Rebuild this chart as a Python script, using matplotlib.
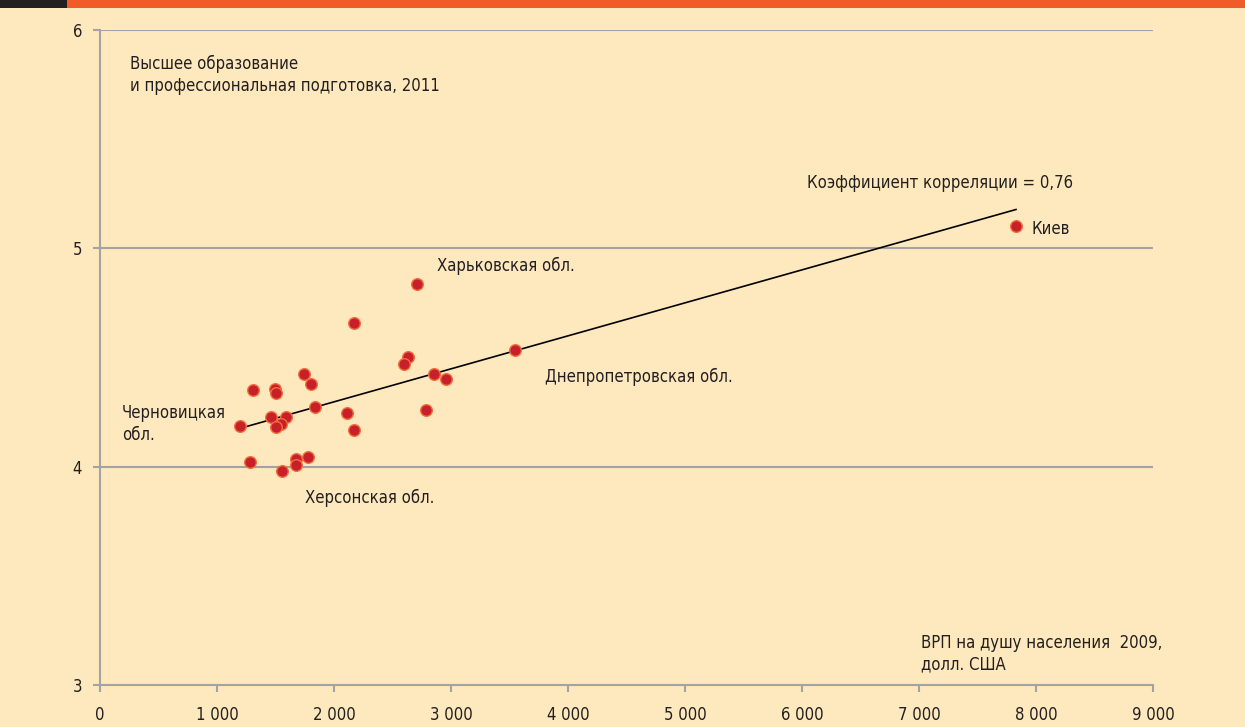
import numpy as np
import matplotlib
matplotlib.use("Agg")
import matplotlib.pyplot as plt
from matplotlib.patches import Rectangle
from matplotlib import font_manager

# ищем узкий шрифт, если он есть
narrow = None
for f in font_manager.fontManager.ttflist:
    if f.name == 'Liberation Sans Narrow':
        narrow = f.name
        break
stretch = 'normal'
if narrow is None:
    for f in font_manager.fontManager.ttflist:
        if f.name == 'DejaVu Sans' and f.stretch == 'condensed':
            narrow = 'DejaVu Sans'
            stretch = 'condensed'
            break
if narrow is None:
    narrow = 'Liberation Sans'
plt.rcParams['font.family'] = [narrow, 'DejaVu Sans']
plt.rcParams['font.stretch'] = stretch

# ВРП на душу населения 2009 (долл. США) и индекс образования 2011
vrp = [2709, 2171, 3547, 2632, 2598, 2855, 2957, 1744, 1803, 1308,
       1496, 1504, 1838, 2111, 2786, 1462, 1590, 1547, 1504, 1197,
       2171, 1282, 1675, 1675, 1778, 1556, 7829]
obr = [4.836, 4.658, 4.534, 4.502, 4.470, 4.424, 4.401, 4.424, 4.378, 4.351,
       4.355, 4.337, 4.273, 4.246, 4.259, 4.227, 4.227, 4.195, 4.181, 4.186,
       4.168, 4.021, 4.035, 4.007, 4.044, 3.980, 5.102]

x_ticks = [0, 1000, 2000, 3000, 4000, 5000, 6000, 7000, 8000, 9000]
x_labels = ['0', '1 000', '2 000', '3 000', '4 000', '5 000', '6 000', '7 000', '8 000', '9 000']
y_ticks = [3, 4, 5, 6]

bg = '#fee8bd'
txt = '#231f20'
grey = '#a3a3a3'

fig = plt.figure(figsize=(12.45, 7.27), dpi=100, facecolor=bg)
ax = fig.add_axes([100 / 1245, 1 - 685 / 727, 1053 / 1245, 655 / 727])
ax.set_facecolor(bg)

# полоса заголовка сверху
fig.patches.append(Rectangle((0, 1 - 8 / 727), 67 / 1245, 8 / 727, transform=fig.transFigure,
                             facecolor='#231f20', edgecolor='none'))
fig.patches.append(Rectangle((67 / 1245, 1 - 8 / 727), 1, 8 / 727, transform=fig.transFigure,
                             facecolor='#f15a29', edgecolor='none'))

ax.set_xlim(0, 9000)
ax.set_ylim(3, 6)
ax.set_xticks(x_ticks)
ax.set_xticklabels(x_labels)
ax.set_yticks(y_ticks)
for y in y_ticks[1:]:
    ax.axhline(y, color=grey, lw=1.5, zorder=1)

for s in ['top', 'right']:
    ax.spines[s].set_visible(False)
for s in ['left', 'bottom']:
    ax.spines[s].set_color(grey)
    ax.spines[s].set_linewidth(1.5)
ax.tick_params(axis='both', colors=grey, length=5, width=1.5, labelcolor=txt, labelsize=12)
ax.tick_params(axis='x', pad=10)
ax.tick_params(axis='y', pad=8)

# линия тренда
k, b = np.polyfit(vrp, obr, 1)
xl = np.array([min(vrp), max(vrp)])
ax.plot(xl, k * xl + b, color='black', lw=1.2, zorder=2)

ax.scatter(vrp, obr, s=70, color='#c8202a', edgecolor='#f36d3c', linewidth=1.0, zorder=3)

fs = 12
ls = 1.25
ax.text(260, 5.885, 'Высшее образование\nи профессиональная подготовка, 2011',
        fontsize=fs, color=txt, va='top', linespacing=ls)
ax.text(6040, 5.30, 'Коэффициент корреляции = 0,76', fontsize=fs, color=txt, va='center')
ax.text(7960, 5.09, 'Киев', fontsize=fs, color=txt, va='center')
ax.text(2880, 4.92, 'Харьковская обл.', fontsize=fs, color=txt, va='center')
ax.text(3800, 4.41, 'Днепропетровская обл.', fontsize=fs, color=txt, va='center')
ax.text(190, 4.195, 'Черновицкая\nобл.', fontsize=fs, color=txt, va='center', linespacing=ls)
ax.text(1750, 3.855, 'Херсонская обл.', fontsize=fs, color=txt, va='center')
ax.text(7020, 3.142, 'ВРП на душу населения  2009,\nдолл. США', fontsize=fs, color=txt,
        va='center', linespacing=ls)

fig.savefig('out.png', dpi=100, facecolor=bg)
